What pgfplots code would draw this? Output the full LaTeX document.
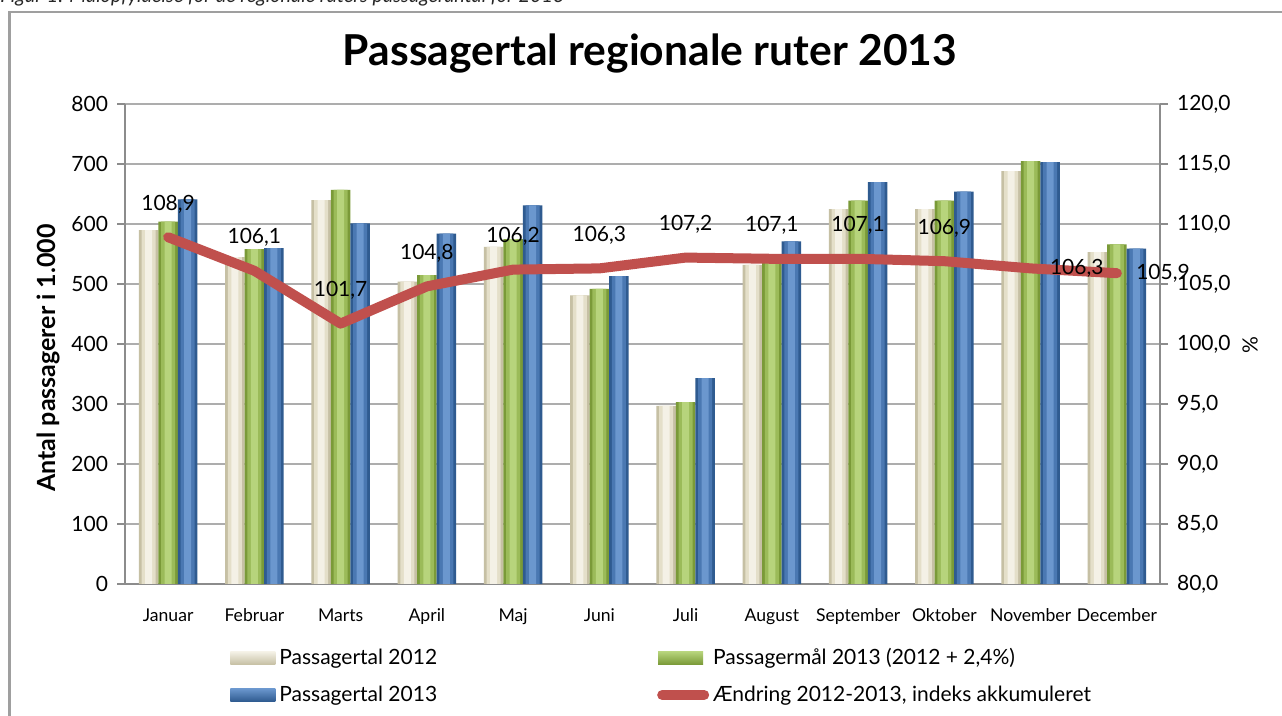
\documentclass[border=0pt]{standalone}
\usepackage{fontspec}
\setmainfont{Lato}
\usepackage{pgfplots}
\pgfplotsset{compat=1.18}
\usepackage{pgfplotstable}

\definecolor{beigeC}{HTML}{F4F1E6}
\definecolor{beigeM}{HTML}{E4DFC9}
\definecolor{beigeE}{HTML}{C6C0A4}
\definecolor{greenC}{HTML}{B7D47C}
\definecolor{greenM}{HTML}{9BBB59}
\definecolor{greenE}{HTML}{7A9A38}
\definecolor{blueC}{HTML}{6B97CE}
\definecolor{blueM}{HTML}{4A78B2}
\definecolor{blueE}{HTML}{2F5B90}
\definecolor{lred}{HTML}{C0504D}
\definecolor{gridgray}{HTML}{ADADAD}
\definecolor{axgray}{HTML}{8C8C8C}

\pgfplotstableread{
x p2012 maal p2013
0 590 604 641
1 545 558 560
2 640 657 601
3 504 515 584
4 562 575 631
5 481 492 513
6 297 303 343
7 532 545 571
8 625 639 670
9 625 639 654
10 688 705 703
11 553 566 559
}\bars

\pgfplotstableread{
x v
0 108.9
1 106.1
2 101.7
3 104.8
4 106.2
5 106.3
6 107.2
7 107.1
8 107.1
9 106.9
10 106.3
11 105.9
}\idx

\begin{document}
\begin{tikzpicture}
\useasboundingbox (0,0) rectangle (641pt,358pt);
\clip (0,0) rectangle (641pt,358pt);
\fill[white] (0,0) rectangle (641pt,358pt);
% caption (cut off at the top)
\node[anchor=base west, inner sep=0pt, text=black!85] at (0pt,356.5pt)
  {\itshape\fontsize{9.9}{11}\selectfont Figur 1: Målopfyldelse for de regionale ruters passagerantal for 2013};
% frame
\draw[gray!75, line width=1.2pt] (4.8pt,-10pt) rectangle (660pt,352pt);
% title
\node[anchor=base, inner sep=0pt] at (325pt,325pt)
  {\bfseries\fontsize{21.3}{24}\selectfont Passagertal regionale ruter 2013};
% axis titles
\node[rotate=90, inner sep=0pt] at (24pt,179pt)
  {\bfseries\fontsize{12.5}{14}\selectfont Antal passagerer i 1.000};
\node[rotate=90, inner sep=0pt] at (625pt,185.5pt)
  {\fontsize{10.5}{12}\selectfont \%};

\begin{axis}[
  at={(62.5pt,66pt)}, anchor=south west,
  scale only axis, width=517.5pt, height=240pt,
  xmin=-0.5, xmax=11.5, ymin=0, ymax=800,
  ytick={0,100,...,800},
  xtick={0,...,11},
  xticklabels={Januar,Februar,Marts,April,Maj,Juni,Juli,August,September,Oktober,November,December},
  axis x line*=bottom, axis y line*=left,
  axis line style={axgray, line width=0.8pt, -},
  x tick style={draw=none},
  y tick style={axgray, line width=0.8pt},
  tick align=outside, major tick length=4pt,
  ymajorgrids, grid style={gridgray, line width=0.6pt},
  /pgf/number format/assume math mode=true,
  yticklabel style={font=\fontsize{10.5}{12}\selectfont, xshift=-1pt},
  xticklabel style={font=\fontsize{8.8}{10}\selectfont, yshift=-4pt, text height=7pt, text depth=2pt},
  ybar, bar width=9.75pt,
  legend columns=2,
  legend cell align=left,
  legend style={draw=none, fill=none, inner sep=0pt,
    at={(0.1014,-0.125)}, anchor=north west,
    font=\fontsize{10.5}{12}\selectfont,
    row sep=5pt,
    /tikz/every even column/.append style={column sep=108pt}},
]
% Passagertal 2012
\addplot[draw=none, fill=beigeE, bar shift=-9.75pt,
  legend image code/.code={\fill[top color=beigeC, bottom color=beigeE] (0pt,-3.2pt) rectangle (22.5pt,3.2pt);}]
  table[x=x, y=p2012] {\bars};
\addlegendentry{Passagertal 2012}
% Passagermål 2013
\addplot[draw=none, fill=greenE, bar shift=0pt,
  legend image code/.code={\fill[top color=greenC, bottom color=greenE] (0pt,-3.2pt) rectangle (22.5pt,3.2pt);}]
  table[x=x, y=maal] {\bars};
\addlegendentry{Passagermål 2013 (2012 + 2,4\%)}
% Passagertal 2013
\addplot[draw=none, fill=blueE, bar shift=9.75pt,
  legend image code/.code={\fill[top color=blueC, bottom color=blueE] (0pt,-3.2pt) rectangle (22.5pt,3.2pt);}]
  table[x=x, y=p2013] {\bars};
\addlegendentry{Passagertal 2013}
\addlegendimage{lred, line width=5pt, line cap=round,
  legend image code/.code={\draw[lred, line width=5pt, line cap=round] (2pt,0pt) -- (23pt,0pt);}}
\addlegendentry{Ændring 2012-2013, indeks akkumuleret}
% bevel layers (same values, narrower, lighter)
\addplot[forget plot, draw=none, fill=beigeM, bar width=7pt, bar shift=-9.75pt] table[x=x, y=p2012] {\bars};
\addplot[forget plot, draw=none, fill=beigeC, bar width=3.5pt, bar shift=-9.75pt] table[x=x, y=p2012] {\bars};
\addplot[forget plot, draw=none, fill=greenM, bar width=7pt, bar shift=0pt] table[x=x, y=maal] {\bars};
\addplot[forget plot, draw=none, fill=greenC, bar width=3.5pt, bar shift=0pt] table[x=x, y=maal] {\bars};
\addplot[forget plot, draw=none, fill=blueM, bar width=7pt, bar shift=9.75pt] table[x=x, y=p2013] {\bars};
\addplot[forget plot, draw=none, fill=blueC, bar width=3.5pt, bar shift=9.75pt] table[x=x, y=p2013] {\bars};
\end{axis}

\begin{axis}[
  at={(62.5pt,66pt)}, anchor=south west,
  scale only axis, width=517.5pt, height=240pt,
  xmin=-0.5, xmax=11.5, ymin=80, ymax=120,
  ytick={80,85,...,120},
  axis x line=none, axis y line*=right,
  axis line style={axgray, line width=0.8pt, -},
  y tick style={axgray, line width=0.8pt},
  tick align=outside, major tick length=4pt,
  /pgf/number format/assume math mode=true,
  yticklabel style={font=\fontsize{10.5}{12}\selectfont, xshift=1pt,
    /pgf/number format/.cd, fixed, fixed zerofill, precision=1, use comma},
  clip=false,
]
\addplot[lred, line width=5pt, line cap=round, line join=round, mark=none]
  table[x=x, y=v] {\idx};
% data labels above the points
\addplot[draw=none, mark=none,
  nodes near coords={\pgfmathprintnumber[fixed,fixed zerofill,precision=1,use comma]{\pgfplotspointmeta}},
  point meta=y,
  every node near coord/.style={anchor=center, yshift=16.5pt, inner sep=0pt,
    font=\fontsize{10.5}{12}\selectfont, text=black}]
  table[x=x, y=v] {
x v
0 108.9
1 106.1
2 101.7
3 104.8
4 106.2
5 106.3
6 107.2
7 107.1
8 107.1
9 106.9
};
% data labels right of the points
\addplot[draw=none, mark=none,
  nodes near coords={\pgfmathprintnumber[fixed,fixed zerofill,precision=1,use comma]{\pgfplotspointmeta}},
  point meta=y,
  every node near coord/.style={anchor=west, xshift=9.5pt, inner sep=0pt,
    font=\fontsize{10.5}{12}\selectfont, text=black}]
  table[x=x, y=v] {
x v
10 106.3
11 105.9
};
\end{axis}
\end{tikzpicture}
\end{document}
